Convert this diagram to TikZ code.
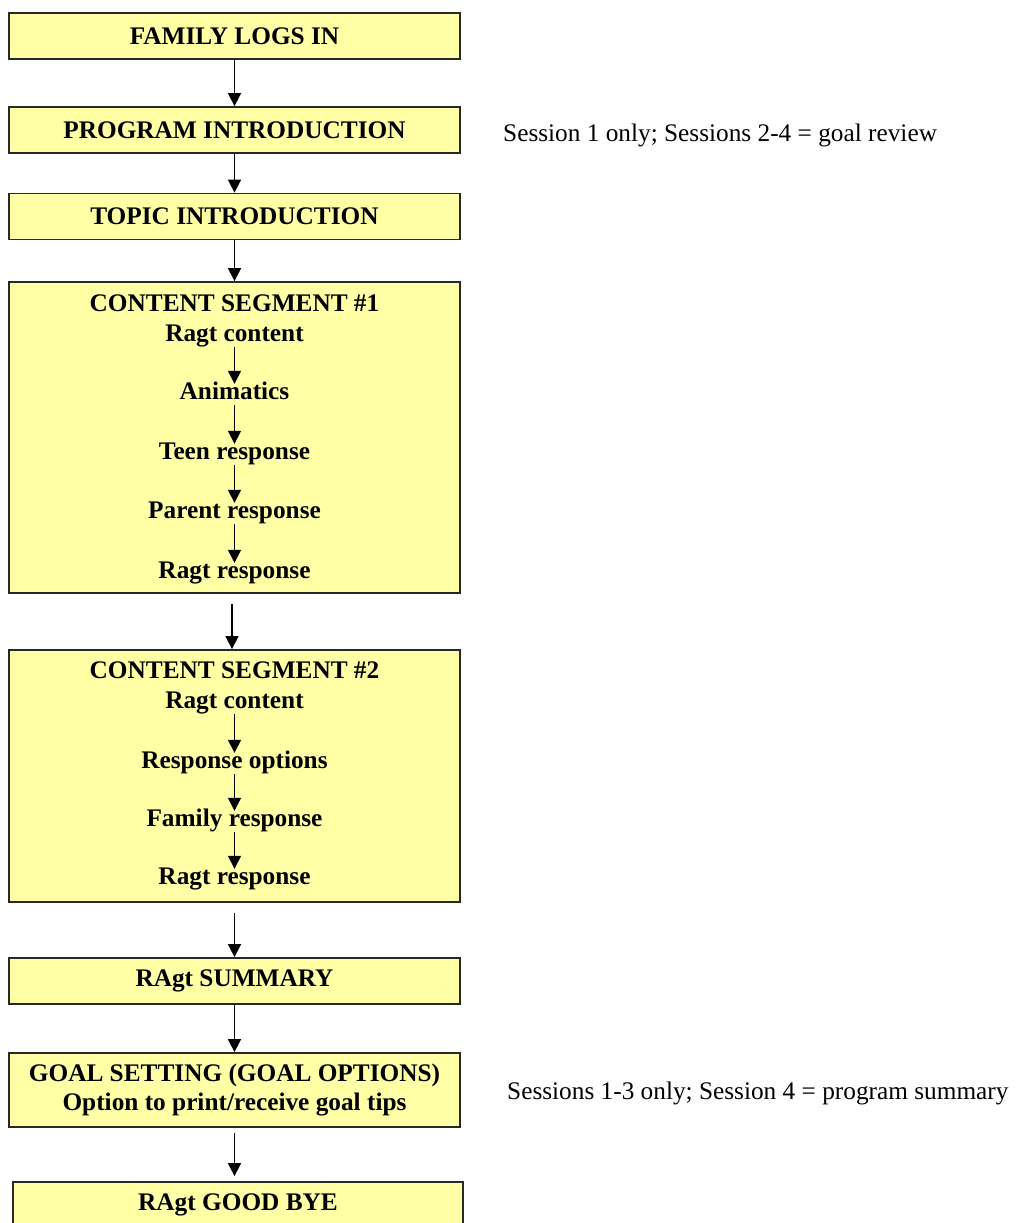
\documentclass[tikz,border=0pt]{standalone}
\usepackage{fontspec}
\setmainfont{Liberation Serif}
\usetikzlibrary{arrows.meta}
\definecolor{boxfill}{RGB}{255,255,165}
\definecolor{boxline}{RGB}{40,40,40}
\tikzset{
 flowbox/.style={draw=boxline, line width=1.8pt, fill=boxfill, minimum width=451pt, inner sep=0pt, font=\fontsize{25.3}{29}\selectfont\bfseries, align=center},
 seglabel/.style={inner sep=0pt, font=\fontsize{25.3}{29}\selectfont\bfseries, text height=17pt, text depth=5pt},
 flowarrow/.style={line width=1.6pt, -{Triangle[length=13pt,width=13pt]}},
 innerarrow/.style={flowarrow, shorten <=1pt, shorten >=-2pt},
 note/.style={anchor=west, inner sep=0pt, font=\fontsize{25.3}{29}\selectfont}
}
\begin{document}
\begin{tikzpicture}[x=1pt,y=-1pt]
\useasboundingbox (0,0) rectangle (1019,1223);
% main boxes
\node[flowbox, minimum height=46pt] (b1) at (234.5,36) {FAMILY LOGS IN};
\node[flowbox, minimum height=46pt] (b2) at (234.5,130) {PROGRAM INTRODUCTION};
\node[flowbox, minimum height=46pt] (b3) at (234.5,216.5) {TOPIC INTRODUCTION};
\node[flowbox, minimum height=311pt] (b4) at (234.5,437.5) {};
\node[flowbox, minimum height=252pt] (b5) at (234.5,776) {};
\node[flowbox, minimum height=46pt] (b6) at (234.5,981) {RAgt SUMMARY};
\node[flowbox, minimum height=74pt] (b7) at (234.5,1090) {GOAL SETTING (GOAL OPTIONS)\\Option to print/receive goal tips};
\node[flowbox, minimum height=46pt, minimum width=450pt] (b8) at (238,1205) {RAgt GOOD BYE};
% segment 1 contents
\node[seglabel] (s1t) at (234.5,305) {CONTENT SEGMENT \#1};
\node[seglabel] (s1a) at (234.5,335) {Ragt content};
\node[seglabel] (s1b) at (234.5,393) {Animatics};
\node[seglabel] (s1c) at (234.5,453) {Teen response};
\node[seglabel] (s1d) at (234.5,512) {Parent response};
\node[seglabel] (s1e) at (234.5,572) {Ragt response};
% segment 2 contents
\node[seglabel] (s2t) at (234.5,672) {CONTENT SEGMENT \#2};
\node[seglabel] (s2a) at (234.5,702) {Ragt content};
\node[seglabel] (s2b) at (234.5,762) {Response options};
\node[seglabel] (s2c) at (234.5,820) {Family response};
\node[seglabel] (s2d) at (234.5,878) {Ragt response};
% notes
\node[note] (n1) at (503,135) {Session 1 only; Sessions 2-4 = goal review};
\node[note] (n2) at (507,1093) {Sessions 1-3 only; Session 4 = program summary};
% main arrows
\draw[flowarrow] (b1) -- (b2);
\draw[flowarrow] (b2) -- (b3);
\draw[flowarrow] (b3) -- (b4);
\draw[flowarrow, shorten <=10pt] ([xshift=-2.5pt]b4.south) -- ([xshift=-2.5pt]b5.north);
\draw[flowarrow, shorten <=10pt] (b5) -- (b6);
\draw[flowarrow] (b6) -- (b7);
\draw[flowarrow, shorten <=5pt, shorten >=5pt] (b7.south) -- (b7.south |- b8.north);
% inner arrows
\draw[innerarrow] (s1a.south) -- (s1b.north);
\draw[innerarrow] (s1b.south) -- (s1c.north);
\draw[innerarrow] (s1c.south) -- (s1d.north);
\draw[innerarrow] (s1d.south) -- (s1e.north);
\draw[innerarrow] (s2a.south) -- (s2b.north);
\draw[innerarrow] (s2b.south) -- (s2c.north);
\draw[innerarrow] (s2c.south) -- (s2d.north);
\end{tikzpicture}
\end{document}
